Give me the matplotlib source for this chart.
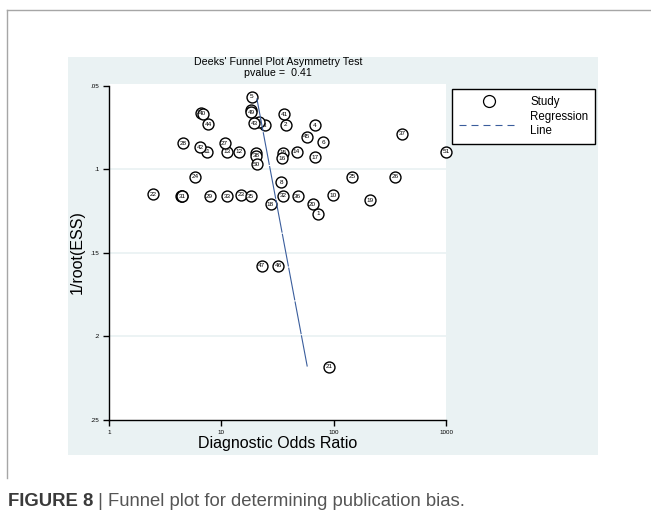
import matplotlib.pyplot as plt
from matplotlib.lines import Line2D
from matplotlib.patches import Rectangle
from matplotlib.ticker import NullLocator

plt.rcParams['font.family'] = ['Liberation Sans', 'DejaVu Sans']

# one point per study: label, diagnostic odds ratio, 1/root(ESS)
study_ids = [str(i) for i in range(1, 52)]
dor = [72.4, 37.3, 24.5, 67.7, 18.7, 80.3, 4.39, 34.1, 21.8, 98.6,
       7.45, 14.4, 11.2, 46.7, 35.6, 35.0, 67.7, 27.4, 211, 64.9,
       90.8, 2.46, 14.9, 5.82, 145, 350, 10.7, 4.55, 7.86, 4.44,
       4.48, 35.4, 11.2, 20.3, 18.2, 48.0, 405, 20.5, 6.56, 6.84,
       36.5, 6.49, 19.7, 7.61, 57.4, 32.1, 22.8, 18.3, 18.5, 20.7,
       1010]
inv_root_ess = [0.1266, 0.0731, 0.0734, 0.0735, 0.0566, 0.0837, 0.1159, 0.1077, 0.0714, 0.1154,
                0.0893, 0.0895, 0.0895, 0.0893, 0.0899, 0.0933, 0.0927, 0.1208, 0.1183, 0.1207,
                0.2181, 0.1149, 0.1150, 0.1045, 0.1043, 0.1043, 0.0843, 0.0843, 0.1159, 0.1159,
                0.1161, 0.1156, 0.1159, 0.0904, 0.1159, 0.1159, 0.0787, 0.0919, 0.0659, 0.0665,
                0.0668, 0.0867, 0.0723, 0.0728, 0.0804, 0.1576, 0.1576, 0.0641, 0.0656, 0.0969,
                0.0893]

# fitted regression line (end points)
reg_dor = [20.7, 58.2]
reg_ess = [0.0574, 0.218]

y_ticks = [0.05, 0.10, 0.15, 0.20, 0.25]
y_tick_labels = ['.05', '.1', '.15', '.2', '.25']
x_ticks = [1, 10, 100, 1000]
x_tick_labels = ['1', '10', '100', '1000']

W, H = 651, 521
fig = plt.figure(figsize=(W / 100, H / 100), dpi=100)

# stata graph region + outer frame
fig.add_artist(Rectangle((68 / W, 1 - 455 / H), 530 / W, 398 / H, transform=fig.transFigure,
                         facecolor='#eaf2f3', edgecolor='none', zorder=-1))
fig.add_artist(Line2D([7 / W, 1], [1 - 10 / H] * 2, color='#a6a6a6', lw=1, transform=fig.transFigure))
fig.add_artist(Line2D([7 / W] * 2, [1 - 10 / H, 1 - 478 / H], color='#a6a6a6', lw=1, transform=fig.transFigure))

ax = fig.add_axes([109 / W, 1 - 420 / H, 337 / W, 335.7 / H])
ax.set_facecolor('white')
ax.set_xscale('log')
ax.set_xlim(1, 1000)
ax.set_ylim(0.25, 0.049)

for yv in y_ticks[1:-1]:
    ax.axhline(yv, color='#eaf2f3', lw=1.3, zorder=0)

for i, (lab, xv, yv) in enumerate(zip(study_ids, dor, inv_root_ess)):
    ax.scatter(xv, yv, s=62, facecolor='white', edgecolor='black', linewidth=1.0,
               zorder=3 + 2 * i, clip_on=False)
    ax.text(xv, yv, lab, fontsize=4.6, ha='center', va='center', zorder=4 + 2 * i, clip_on=False)

reg_color = '#3a5d9c'
ax.plot(reg_dor, reg_ess, color=reg_color, lw=0.8, ls=(0, (30, 1)), zorder=200)

ax.set_xticks(x_ticks)
ax.set_xticklabels(x_tick_labels)
ax.set_yticks(y_ticks)
ax.set_yticklabels(y_tick_labels)
ax.xaxis.set_minor_locator(NullLocator())
ax.tick_params(direction='out', length=4.5, width=1, labelsize=4.5, pad=2.5)
for s in ['top', 'right']:
    ax.spines[s].set_visible(False)
ax.spines['left'].set_bounds(0.25, 0.05)
ax.spines['left'].set_linewidth(1)
ax.spines['bottom'].set_linewidth(1)

ax.set_xlabel('Diagnostic Odds Ratio', fontsize=11.5, labelpad=1)
ax.set_ylabel('1/root(ESS)', fontsize=11.5, labelpad=4)

fig.text(278 / W, 1 - 62 / H, "Deeks' Funnel Plot Asymmetry Test", ha='center', va='center', fontsize=7.7)
fig.text(278 / W, 1 - 73 / H, "pvalue =  0.41", ha='center', va='center', fontsize=7.7)

handles = [Line2D([], [], marker='o', ls='none', mfc='white', mec='black', ms=8.6, mew=0.9),
           Line2D([], [], color=reg_color, lw=0.8, dashes=(6.3, 4.5))]
fig.legend(handles, ['Study', 'Regression\nLine'], loc='upper left',
           bbox_to_anchor=(452 / W, 1 - 89 / H), bbox_transform=fig.transFigure,
           frameon=True, fancybox=False, edgecolor='black', framealpha=1, fontsize=8.3,
           handlelength=5.2, handletextpad=1.0, borderpad=0.6, labelspacing=0.3, borderaxespad=0)

# caption
t1 = fig.text(8 / W, 1 - 510 / H, 'FIGURE 8', fontsize=13.3, fontweight='bold', color='#3a3a3a',
              ha='left', va='bottom')
ax.annotate(' | Funnel plot for determining publication bias.', xy=(1, 0), xycoords=t1,
            ha='left', va='bottom', fontsize=13.3, color='#555555', annotation_clip=False)

fig.savefig('out.png', dpi=100)
